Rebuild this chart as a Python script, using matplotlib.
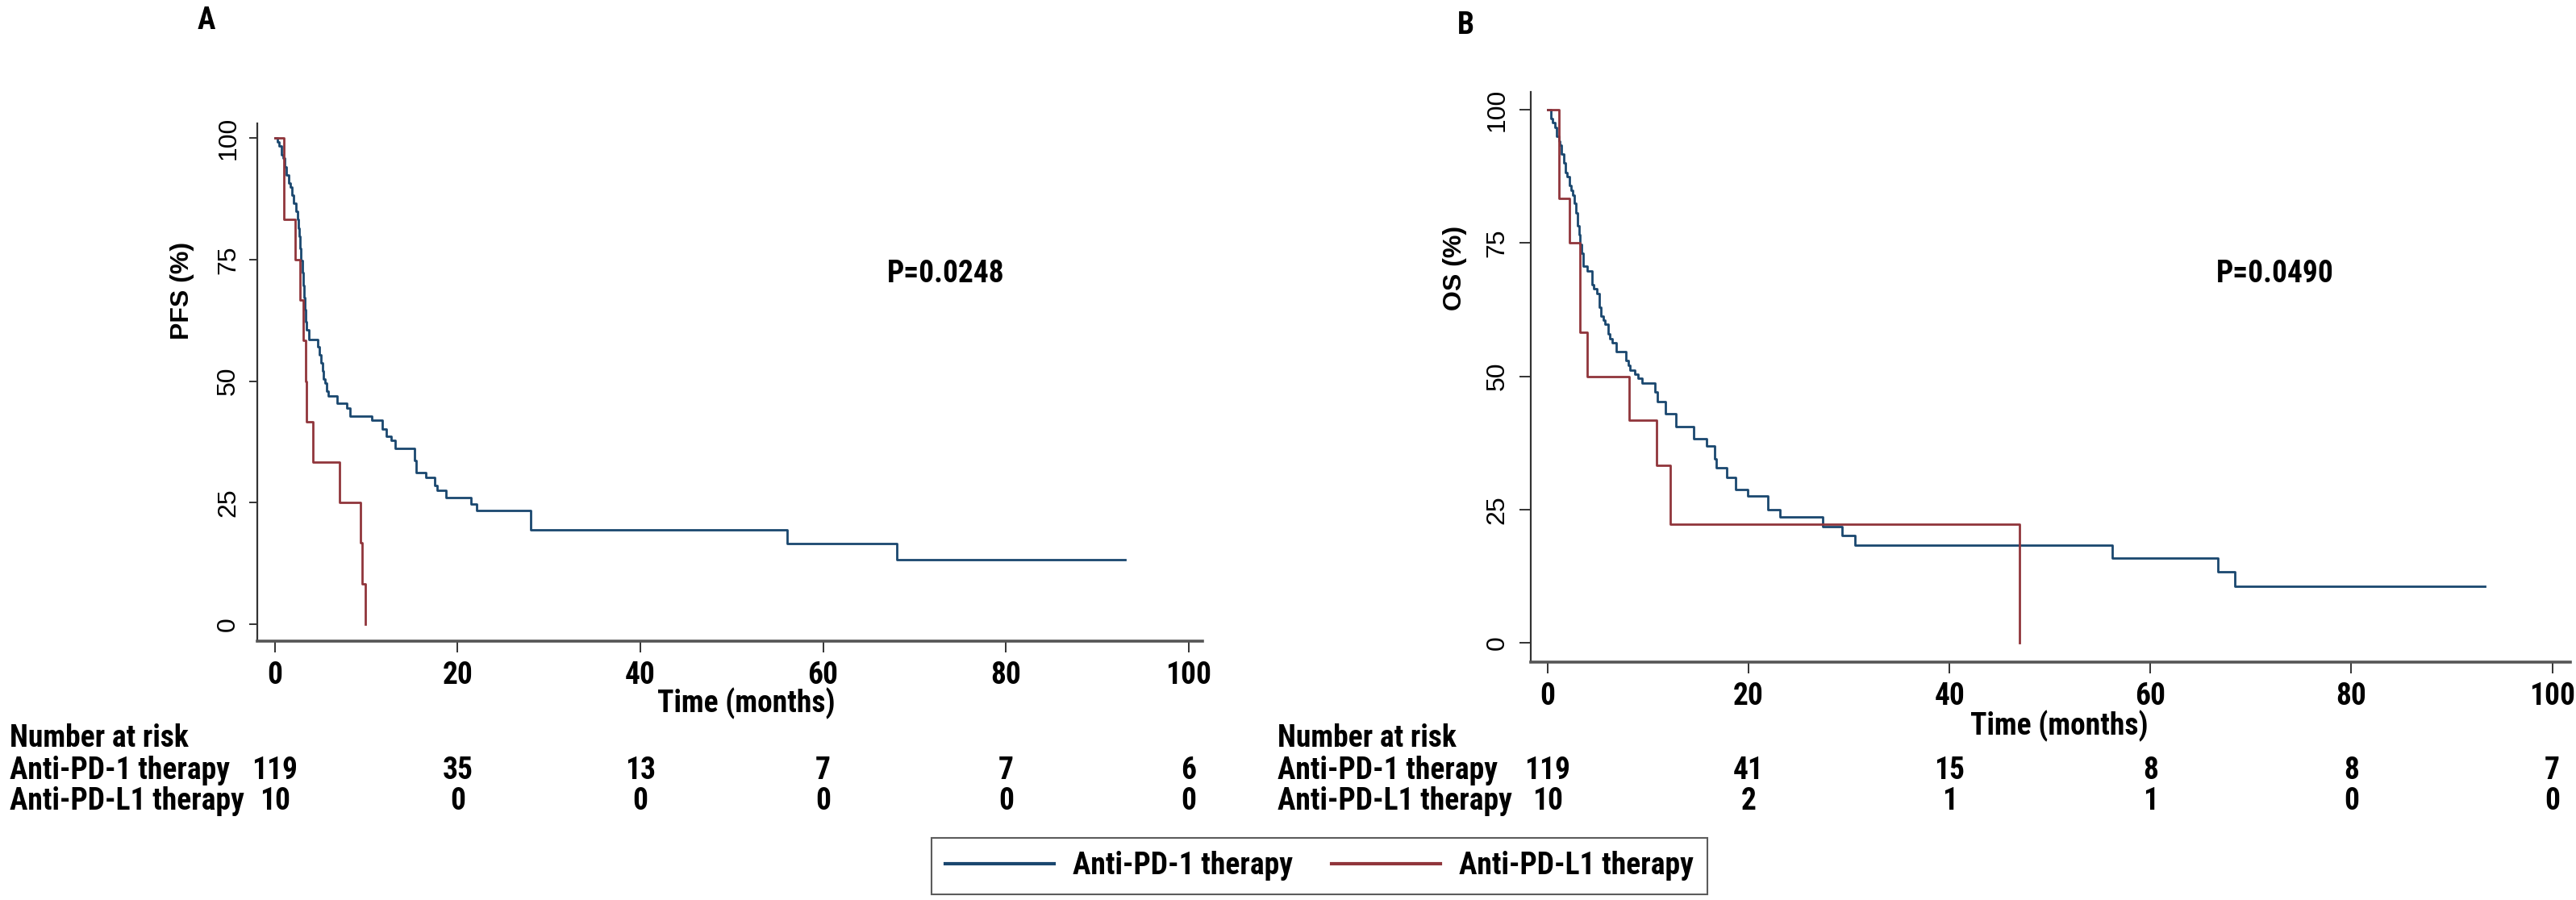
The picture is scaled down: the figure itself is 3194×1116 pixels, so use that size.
import os
import matplotlib
matplotlib.use("Agg")
import matplotlib.pyplot as plt
import matplotlib.transforms as mtransforms
from matplotlib import font_manager
from matplotlib.font_manager import FontProperties
from matplotlib.lines import Line2D

# ---- data ----
# PFS, anti-PD-1 (step times in months, survival in %)
pfs_pd1_t = [0, 0.3, 0.5, 0.7, 0.9, 1.1, 1.3, 1.5, 1.7, 1.9, 2.1, 2.3, 2.5, 2.6, 2.7, 2.8,
             2.9, 3.0, 3.1, 3.2, 3.3, 3.4, 3.5, 3.7, 4.7, 4.9, 5.1, 5.2, 5.3, 5.5, 5.7, 5.9,
             6.8, 7.9, 8.2, 10.6, 11.8, 12.2, 12.7, 13.2, 15.3, 15.5, 16.5, 17.5, 17.8, 18.7,
             21.5, 22.1, 28.0, 56.1, 68.1, 93.0]
pfs_pd1_s = [100, 99.2, 98.3, 96.6, 95.8, 94.1, 92.4, 90.8, 89.9, 88.2, 86.6, 84.9, 83.2, 81.5,
             79.8, 77.3, 74.8, 72.3, 69.7, 67.2, 64.7, 62.2, 60.5, 58.6, 57.1, 55.4, 53.8, 52.1,
             50.4, 49.6, 47.9, 47.0, 45.4, 44.5, 42.8, 41.9, 40.2, 38.6, 37.8, 36.1, 33.6, 31.1,
             30.2, 28.5, 27.6, 26.0, 24.7, 23.3, 19.4, 16.6, 13.3, 13.3]

# PFS, anti-PD-L1
pfs_pdl1_t = [0, 1.0, 2.2, 2.8, 3.1, 3.4, 3.5, 4.2, 7.1, 9.4, 9.6, 9.95]
pfs_pdl1_s = [100, 83.3, 75.0, 66.7, 58.3, 50.0, 41.7, 33.3, 25.0, 16.7, 8.3, 0]

# OS, anti-PD-1
os_pd1_t = [0, 0.3, 0.5, 0.7, 0.9, 1.1, 1.2, 1.4, 1.6, 1.8, 1.95, 2.2, 2.3, 2.5, 2.65, 2.8,
            3.0, 3.1, 3.2, 3.35, 3.5, 3.9, 4.4, 4.6, 4.9, 5.1, 5.3, 5.5, 5.7, 6.0, 6.2, 6.4,
            6.8, 7.8, 8.0, 8.2, 8.7, 9.0, 9.4, 10.7, 10.9, 11.7, 12.8, 14.5, 15.8, 16.6, 16.8,
            17.8, 18.7, 19.9, 21.9, 23.1, 27.4, 29.3, 30.6, 56.2, 66.7, 68.4, 93.3]
os_pd1_s = [100, 98.3, 97.5, 96.6, 95.0, 94.1, 93.3, 91.6, 90.0, 88.2, 87.4, 85.7, 84.9, 84.0,
            82.4, 80.7, 78.2, 76.5, 74.8, 73.1, 70.6, 69.7, 67.2, 66.4, 65.5, 63.0, 61.3, 60.5,
            59.7, 58.0, 57.1, 56.3, 54.6, 52.9, 52.1, 51.2, 50.4, 49.6, 48.7, 47.0, 45.3, 43.0,
            40.6, 38.3, 37.0, 34.5, 32.8, 31.1, 28.8, 27.6, 25.0, 23.6, 21.8, 20.1, 18.4, 15.9,
            13.3, 10.6, 10.6]

# OS, anti-PD-L1
os_pdl1_t = [0, 1.1, 2.2, 3.2, 3.9, 8.1, 10.8, 12.2, 47.0]
os_pdl1_s = [100, 83.3, 75.0, 58.3, 50.0, 41.7, 33.3, 22.2, 0]

# number at risk
risk_months = [0, 20, 40, 60, 80, 100]
pfs_risk_pd1 = [119, 35, 13, 7, 7, 6]
pfs_risk_pdl1 = [10, 0, 0, 0, 0, 0]
os_risk_pd1 = [119, 41, 15, 8, 8, 7]
os_risk_pdl1 = [10, 2, 1, 1, 0, 0]

group_names = ["Anti-PD-1 therapy", "Anti-PD-L1 therapy"]
p_pfs = "P=0.0248"
p_os = "P=0.0490"

# ---- fonts: the original uses a narrow bold face for horizontal text ----
plt.rcParams["font.family"] = ["Liberation Sans", "DejaVu Sans"]

wanted = ["LiberationSansNarrow-Bold", "RobotoCondensed-Bold", "NotoSans-CondensedBold",
          "OpenSans-CondensedBold", "OpenSans_Condensed-Bold", "DejaVuSansCondensed-Bold"]
files = {os.path.splitext(os.path.basename(f.fname))[0]: f.fname
         for f in font_manager.fontManager.ttflist}
narrow_file = None
for w in wanted:
    if w in files:
        narrow_file = files[w]
        break


def nfont(size):
    if narrow_file:
        return FontProperties(fname=narrow_file, size=size)
    return FontProperties(family="Liberation Sans", weight="bold", size=size * 0.85)


blue = "#1a476f"
red = "#90353b"
axcol = "#333333"
txt = 27

fig = plt.figure(figsize=(31.94, 11.16), dpi=100)

axA = fig.add_axes([0.0999, 0.2876, 0.3669, 0.5753])
axB = fig.add_axes([0.5942, 0.2643, 0.4036, 0.6335])


def style_axis(ax, xlim, ylim, ylen, ypad):
    ax.set_xlim(*xlim)
    ax.set_ylim(*ylim)
    for s in ["top", "right"]:
        ax.spines[s].set_visible(False)
    ax.spines["left"].set_linewidth(1.6)
    ax.spines["bottom"].set_linewidth(2.6)
    ax.spines["left"].set_color(axcol)
    ax.spines["bottom"].set_color("#555555")
    ax.set_xticks(risk_months)
    ax.set_yticks([0, 25, 50, 75, 100])
    ax.tick_params(axis="x", length=10, width=1.4, pad=7, colors=axcol)
    ax.tick_params(axis="y", length=ylen, width=1.4, pad=ypad, colors=axcol,
                   labelrotation=90, labelsize=23)
    for lab in ax.get_xticklabels():
        lab.set_fontproperties(nfont(txt))
        lab.set_color("black")
    for lab in ax.get_yticklabels():
        lab.set_va("center")
        lab.set_color("black")


style_axis(axA, (-1.9, 101.5), (-3.5, 103.0), 7, 8)
style_axis(axB, (-1.7, 101.8), (-3.6, 103.3), 10, 9)

axA.step(pfs_pd1_t, pfs_pd1_s, where="post", color=blue, lw=2.0)
axA.step(pfs_pdl1_t, pfs_pdl1_s, where="post", color=red, lw=2.0)
axB.step(os_pd1_t, os_pd1_s, where="post", color=blue, lw=2.0)
axB.step(os_pdl1_t, os_pdl1_s, where="post", color=red, lw=2.0)

# panel letters, axis titles, p-values
fig.text(256 / 3194, 1 - 25 / 1116, "A", fontproperties=nfont(txt), ha="center", va="center")
fig.text(1817 / 3194, 1 - 32 / 1116, "B", fontproperties=nfont(txt), ha="center", va="center")
fig.text(226 / 3194, 1 - 360 / 1116, "PFS (%)", rotation=90, fontweight="bold",
         fontsize=23, ha="center", va="center")
fig.text(1804 / 3194, 1 - 332 / 1116, "OS (%)", rotation=90, fontweight="bold",
         fontsize=23, ha="center", va="center")
fig.text(1173 / 3194, 1 - 340 / 1116, p_pfs, fontproperties=nfont(txt), ha="center", va="center")
fig.text(2821 / 3194, 1 - 340 / 1116, p_os, fontproperties=nfont(txt), ha="center", va="center")
fig.text(925 / 3194, 1 - 872 / 1116, "Time (months)", fontproperties=nfont(txt),
         ha="center", va="center")
fig.text(2553 / 3194, 1 - 900 / 1116, "Time (months)", fontproperties=nfont(txt),
         ha="center", va="center")

# number at risk tables
row_y = [1 - 955 / 1116, 1 - 993 / 1116]
head_y = 1 - 915 / 1116


def risk_table(ax, x_left, rows):
    tr = mtransforms.blended_transform_factory(ax.transData, fig.transFigure)
    fig.text(x_left, head_y, "Number at risk", fontproperties=nfont(txt), ha="left", va="center")
    for name, vals, y in zip(group_names, rows, row_y):
        fig.text(x_left, y, name, fontproperties=nfont(txt), ha="left", va="center")
        for m, v in zip(risk_months, vals):
            ax.text(m, y, str(v), transform=tr, fontproperties=nfont(txt),
                    ha="center", va="center")


risk_table(axA, 12 / 3194, [pfs_risk_pd1, pfs_risk_pdl1])
risk_table(axB, 1584 / 3194, [os_risk_pd1, os_risk_pdl1])

# legend
handles = [Line2D([], [], color=blue, lw=3), Line2D([], [], color=red, lw=3)]
leg = fig.legend(handles, group_names, loc="center", bbox_to_anchor=(1636 / 3194, 1 - 1074 / 1116),
                 ncol=2, frameon=True, fancybox=False, edgecolor="#333333",
                 prop=nfont(txt), handlelength=3.6, columnspacing=1.3,
                 borderpad=0.45, handletextpad=0.6)
leg.get_frame().set_linewidth(1.5)

fig.savefig("out.png", dpi=100)
